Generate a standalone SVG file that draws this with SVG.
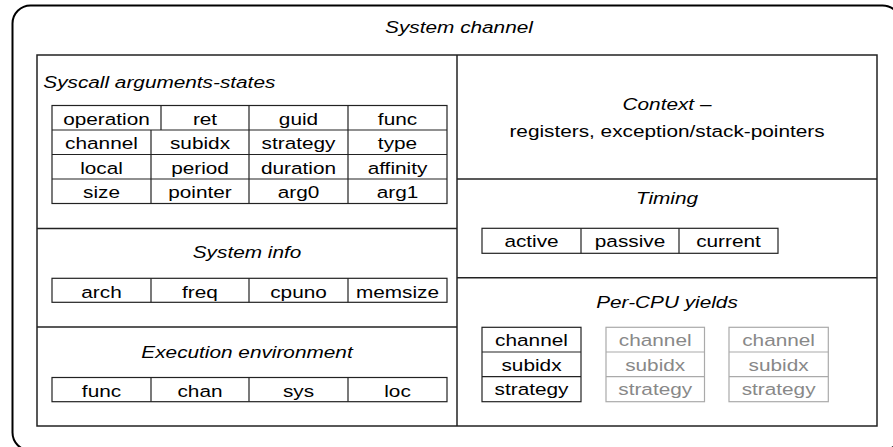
<svg xmlns="http://www.w3.org/2000/svg" width="893" height="447" viewBox="0 0 893 447">
<style>
.t{font-family:"Liberation Sans",Arial,Helvetica,sans-serif;font-size:16.5px;fill:#000;text-anchor:middle}
.i{font-style:italic}
.s{text-anchor:start}
.g{fill:#888}
.panel{fill:none;stroke:#222;stroke-width:1.5}
.cell{fill:none;stroke:#222;stroke-width:1.2}
.gcell{fill:none;stroke:#aaa;stroke-width:1.2}
</style>
<rect width="893" height="447" fill="#fff"/>
<g id="system-channel">
<rect x="12.5" y="5.5" width="888" height="445" rx="18" ry="18" fill="none" stroke="#000" stroke-width="2"/>
<text class="t i" transform="matrix(1.26 0 0 1 459 32.5)">System channel</text>
<rect class="panel" x="37" y="55" width="840" height="371"/>
<line class="panel" x1="457" y1="55" x2="457" y2="426"/>
</g>
<g id="syscall-arguments">
<text class="t i s" transform="matrix(1.26 0 0 1 43.3 87.5)">Syscall arguments-states</text>
<rect class="cell" x="52" y="105.5" width="395" height="98"/>
<path class="cell" d="M52 130H447M52 154.5H447M52 179H447M161 105.5V130M151 130V203.5M249 105.5V203.5M348 105.5V203.5"/>
<text class="t" transform="matrix(1.26 0 0 1 106.5 125)">operation</text>
<text class="t" transform="matrix(1.26 0 0 1 205 125)">ret</text>
<text class="t" transform="matrix(1.26 0 0 1 298.5 125)">guid</text>
<text class="t" transform="matrix(1.26 0 0 1 397.5 125)">func</text>
<text class="t" transform="matrix(1.26 0 0 1 101.5 149.3)">channel</text>
<text class="t" transform="matrix(1.26 0 0 1 200 149.3)">subidx</text>
<text class="t" transform="matrix(1.26 0 0 1 298.5 149.3)">strategy</text>
<text class="t" transform="matrix(1.26 0 0 1 397.5 149.3)">type</text>
<text class="t" transform="matrix(1.26 0 0 1 101.5 173.8)">local</text>
<text class="t" transform="matrix(1.26 0 0 1 200 173.8)">period</text>
<text class="t" transform="matrix(1.26 0 0 1 298.5 173.8)">duration</text>
<text class="t" transform="matrix(1.26 0 0 1 397.5 173.8)">affinity</text>
<text class="t" transform="matrix(1.26 0 0 1 101.5 198.3)">size</text>
<text class="t" transform="matrix(1.26 0 0 1 200 198.3)">pointer</text>
<text class="t" transform="matrix(1.26 0 0 1 298.5 198.3)">arg0</text>
<text class="t" transform="matrix(1.26 0 0 1 397.5 198.3)">arg1</text>
</g>
<g id="system-info">
<line class="panel" x1="37" y1="228.5" x2="457" y2="228.5"/>
<text class="t i" transform="matrix(1.26 0 0 1 247 257.5)">System info</text>
<rect class="cell" x="52" y="278.3" width="395" height="24"/>
<path class="cell" d="M151 278.3V302.3M249 278.3V302.3M348 278.3V302.3"/>
<text class="t" transform="matrix(1.26 0 0 1 101.5 297.5)">arch</text>
<text class="t" transform="matrix(1.26 0 0 1 200 297.5)">freq</text>
<text class="t" transform="matrix(1.26 0 0 1 298.5 297.5)">cpuno</text>
<text class="t" transform="matrix(1.26 0 0 1 397.5 297.5)">memsize</text>
</g>
<g id="execution-environment">
<line class="panel" x1="37" y1="327" x2="457" y2="327"/>
<text class="t i" transform="matrix(1.26 0 0 1 247 357.5)">Execution environment</text>
<rect class="cell" x="52" y="377.5" width="395" height="24.2"/>
<path class="cell" d="M151 377.5V401.7M249 377.5V401.7M348 377.5V401.7"/>
<text class="t" transform="matrix(1.26 0 0 1 101.5 396.5)">func</text>
<text class="t" transform="matrix(1.26 0 0 1 200 396.5)">chan</text>
<text class="t" transform="matrix(1.26 0 0 1 298.5 396.5)">sys</text>
<text class="t" transform="matrix(1.26 0 0 1 397.5 396.5)">loc</text>
</g>
<g id="context">
<text class="t" transform="matrix(1.26 0 0 1 667 110.3)"><tspan class="i">Context</tspan> –</text>
<text class="t" transform="matrix(1.26 0 0 1 667 137)">registers, exception/stack-pointers</text>
</g>
<g id="timing">
<line class="panel" x1="457" y1="179" x2="877" y2="179"/>
<text class="t i" transform="matrix(1.26 0 0 1 667 203.5)">Timing</text>
<rect class="cell" x="482" y="228.3" width="296" height="25"/>
<path class="cell" d="M581 228.3V253.3M679 228.3V253.3"/>
<text class="t" transform="matrix(1.26 0 0 1 531.5 247)">active</text>
<text class="t" transform="matrix(1.26 0 0 1 630 247)">passive</text>
<text class="t" transform="matrix(1.26 0 0 1 728.5 247)">current</text>
</g>
<g id="per-cpu-yields">
<line class="panel" x1="457" y1="277.7" x2="877" y2="277.7"/>
<text class="t i" transform="matrix(1.26 0 0 1 667 307.5)">Per-CPU yields</text>
<rect class="cell" x="482" y="327.3" width="99" height="74.4"/>
<path class="cell" d="M482 352H581M482 376.7H581"/>
<text class="t" transform="matrix(1.26 0 0 1 531.5 346)">channel</text>
<text class="t" transform="matrix(1.26 0 0 1 531.5 370.7)">subidx</text>
<text class="t" transform="matrix(1.26 0 0 1 531.5 395.3)">strategy</text>
<rect class="gcell" x="606" y="327.3" width="98.5" height="74.4"/>
<path class="gcell" d="M606 352H704.5M606 376.7H704.5"/>
<text class="t g" transform="matrix(1.26 0 0 1 655.2 346)">channel</text>
<text class="t g" transform="matrix(1.26 0 0 1 655.2 370.7)">subidx</text>
<text class="t g" transform="matrix(1.26 0 0 1 655.2 395.3)">strategy</text>
<rect class="gcell" x="729" y="327.3" width="99.3" height="74.4"/>
<path class="gcell" d="M729 352H828.3M729 376.7H828.3"/>
<text class="t g" transform="matrix(1.26 0 0 1 778.6 346)">channel</text>
<text class="t g" transform="matrix(1.26 0 0 1 778.6 370.7)">subidx</text>
<text class="t g" transform="matrix(1.26 0 0 1 778.6 395.3)">strategy</text>
</g>
</svg>
